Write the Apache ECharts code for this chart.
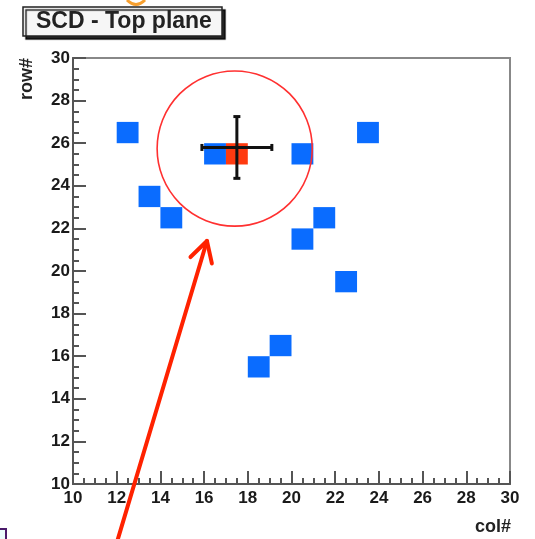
<!DOCTYPE html>
<html>
<head>
<meta charset="utf-8">
<script src="https://cdn.jsdelivr.net/npm/echarts@6/dist/echarts.min.js"></script>
<style>html,body{margin:0;padding:0;background:#fff;}#c{width:535px;height:539px;}</style>
</head>
<body>
<div id="c"></div>
<script>
// Data
const hitCols = [12.5, 13.5, 14.5, 16.5, 20.5, 23.5, 21.5, 20.5, 22.5, 19.5, 18.5];
const hitRows = [26.5, 23.5, 22.5, 25.5, 25.5, 26.5, 22.5, 21.5, 19.5, 16.5, 15.5];
const seedCols = [17.5];
const seedRows = [25.5];
const fitPoint = [17.5, 25.8];
const fitErr = [1.6, 1.45];
const circleCenter = [17.4, 25.75];
const circleRadius = [3.55];
const arrowFrom = [12.05, 7.4];
const arrowTo = [16.13, 21.41];
const xTicks = [10, 12, 14, 16, 18, 20, 22, 24, 26, 28, 30];
const yTicks = [10, 12, 14, 16, 18, 20, 22, 24, 26, 28, 30];

const FONT = '"Liberation Sans", Arial, sans-serif';
const chart = echarts.init(document.getElementById('c'), null, {renderer: 'canvas'});

function cellItem(color) {
  return function (params, api) {
    const p = api.coord([api.value(0) - 0.5, api.value(1) + 0.5]);
    const s = api.size([1, 1]);
    return {type: 'rect', shape: {x: p[0], y: p[1], width: s[0], height: s[1]}, style: {fill: color}};
  };
}

const axisCommon = {
  type: 'value',
  min: xTicks[0], max: xTicks[xTicks.length - 1], interval: xTicks[1] - xTicks[0],
  axisLine: {show: true, lineStyle: {color: '#555', width: 2}},
  axisTick: {show: true, inside: true, length: 13, lineStyle: {color: '#555', width: 2}},
  minorTick: {show: true, splitNumber: 4, length: 6, lineStyle: {color: '#555', width: 2}},
  splitLine: {show: false},
  axisLabel: {fontFamily: FONT, fontWeight: 'bold', fontSize: 17, color: '#1a1a1a', showMinLabel: true, showMaxLabel: true}
};

chart.setOption({
  animation: false,
  backgroundColor: '#fff',
  title: {
    text: 'SCD - Top plane',
    left: 23, top: 7,
    padding: [4, 10, 3, 13],
    backgroundColor: '#f6f6f6',
    borderColor: '#222', borderWidth: 1.5,
    shadowColor: 'rgba(0,0,0,0.85)', shadowOffsetX: 3, shadowOffsetY: 3, shadowBlur: 1,
    textStyle: {fontFamily: FONT, fontWeight: 'bold', fontSize: 23, color: '#222', lineHeight: 22}
  },
  grid: {left: 73, right: 25, top: 58, bottom: 55, show: true, borderColor: '#888', borderWidth: 2, backgroundColor: '#fff'},
  xAxis: Object.assign({}, axisCommon, {axisLabel: Object.assign({}, axisCommon.axisLabel, {margin: 6})}),
  yAxis: Object.assign({}, axisCommon, {min: yTicks[0], max: yTicks[yTicks.length - 1], interval: yTicks[1] - yTicks[0],
    axisLabel: Object.assign({}, axisCommon.axisLabel, {margin: 3})}),
  graphic: [
    {type: 'text', x: 27, y: 58, rotation: Math.PI / 2,
      style: {text: 'row#', font: 'bold 18px ' + FONT, fill: '#222', textAlign: 'right', textVerticalAlign: 'middle'}},
    {type: 'text', x: 511, y: 527,
      style: {text: 'col#', font: 'bold 18px ' + FONT, fill: '#222', textAlign: 'right', textVerticalAlign: 'middle'}},
    {type: 'bezierCurve', shape: {x1: 127, y1: 0, cpx1: 136, cpy1: 9, x2: 145, y2: 0}, style: {fill: null, stroke: '#f7a030', lineWidth: 3}},
    {type: 'rect', shape: {x: -3, y: 529, width: 9, height: 14}, style: {fill: '#eafcfc', stroke: '#4a1a6a', lineWidth: 2}}
  ],
  series: [
    {type: 'custom', name: 'hits', data: hitCols.map((c, i) => [c, hitRows[i]]), renderItem: cellItem('#0a6cff'), clip: true},
    {type: 'custom', name: 'seed', data: seedCols.map((c, i) => [c, seedRows[i]]), renderItem: cellItem('#ff3a10'), clip: true},
    {type: 'custom', name: 'circle', data: [[circleCenter[0], circleCenter[1], circleRadius[0]]],
      renderItem: function (params, api) {
        const c = api.coord([api.value(0), api.value(1)]);
        const r = api.size([api.value(2), 0])[0];
        return {type: 'circle', shape: {cx: c[0], cy: c[1], r: r}, style: {fill: null, stroke: '#ff3030', lineWidth: 1.6}};
      }},
    {type: 'custom', name: 'fit', data: [[fitPoint[0], fitPoint[1], fitErr[0], fitErr[1]]],
      renderItem: function (params, api) {
        const x = api.value(0), y = api.value(1), ex = api.value(2), ey = api.value(3);
        const l = api.coord([x - ex, y]), r = api.coord([x + ex, y]);
        const t = api.coord([x, y + ey]), b = api.coord([x, y - ey]);
        const st = {stroke: '#111', lineWidth: 3};
        const cap = 3.5;
        return {type: 'group', children: [
          {type: 'line', shape: {x1: l[0], y1: l[1], x2: r[0], y2: r[1]}, style: st},
          {type: 'line', shape: {x1: t[0], y1: t[1], x2: b[0], y2: b[1]}, style: st},
          {type: 'line', shape: {x1: l[0], y1: l[1] - cap, x2: l[0], y2: l[1] + cap}, style: st},
          {type: 'line', shape: {x1: r[0], y1: r[1] - cap, x2: r[0], y2: r[1] + cap}, style: st},
          {type: 'line', shape: {x1: t[0] - cap, y1: t[1], x2: t[0] + cap, y2: t[1]}, style: st},
          {type: 'line', shape: {x1: b[0] - cap, y1: b[1], x2: b[0] + cap, y2: b[1]}, style: st}
        ]};
      }},
    {type: 'custom', name: 'arrow', clip: false, data: [[arrowFrom[0], arrowFrom[1], arrowTo[0], arrowTo[1]]],
      renderItem: function (params, api) {
        const a = api.coord([api.value(0), api.value(1)]);
        const b = api.coord([api.value(2), api.value(3)]);
        const dx = a[0] - b[0], dy = a[1] - b[1];
        const len = Math.sqrt(dx * dx + dy * dy);
        const ux = dx / len, uy = dy / len;
        const h = 23, ang = 29 * Math.PI / 180;
        const c = Math.cos(ang), s = Math.sin(ang);
        const h1 = [b[0] + h * (ux * c - uy * s), b[1] + h * (ux * s + uy * c)];
        const h2 = [b[0] + h * (ux * c + uy * s), b[1] + h * (-ux * s + uy * c)];
        const st = {stroke: '#ff2200', lineWidth: 4, lineCap: 'round', lineJoin: 'round', fill: null};
        return {type: 'group', children: [
          {type: 'line', shape: {x1: a[0], y1: a[1], x2: b[0], y2: b[1]}, style: st},
          {type: 'polyline', shape: {points: [h1, b, h2]}, style: st}
        ]};
      }}
  ]
});
</script>
</body>
</html>
